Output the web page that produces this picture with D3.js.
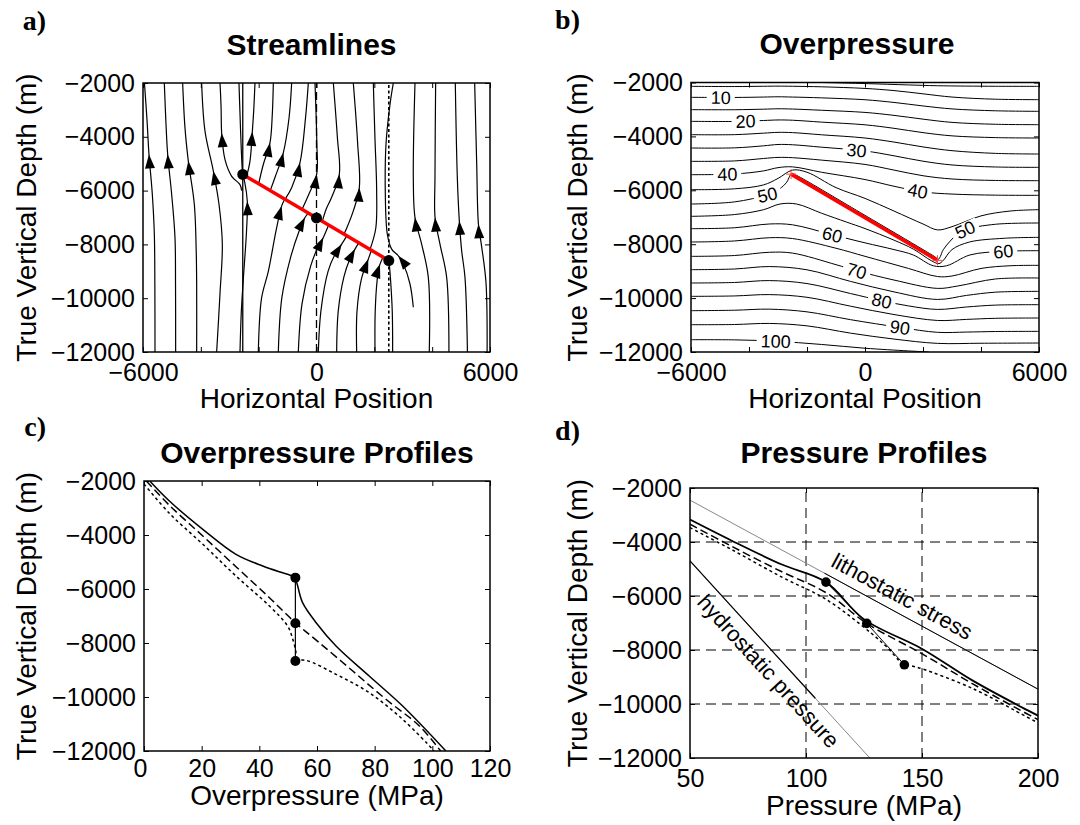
<!DOCTYPE html>
<html>
<head>
<meta charset="utf-8">
<script src="https://cdn.jsdelivr.net/npm/d3@7"></script>
<style>
  body { margin: 0; background: #fff; }
  svg { display: block; }
</style>
</head>
<body>
<svg id="fig" width="1080" height="825"></svg>
<script>
// ---------------- shared tick values ----------------
const depthTicks = [-12000, -10000, -8000, -6000, -4000, -2000];
const positionTicks = [-6000, -4000, -2000, 0, 2000, 4000, 6000];
const positionTickLabels = [-6000, 0, 6000];
const overpressureTicks = [0, 20, 40, 60, 80, 100, 120];
const pressureTicks = [50, 100, 150, 200];
const pressureGrid = [100, 150];
const depthGrid = [-10000, -8000, -6000, -4000];

// ---------------- fault and profile locations ----------------
const faultTrace = [[-2550, -5400], [2500, -8600]];
const faultDots = [[-2550, -5400], [0, -7016], [2500, -8600]];
const profileSolidX = -2550;
const profileDashedX = 0;
const profileDottedX = 2500;

// ---------------- a) streamlines, [position, depth], in flow order ----------------
const streamlines = [
  [[-5585,-12000],[-5590,-9500],[-5608,-7620],[-5678,-6137],[-5793,-4655],[-5860,-3400],[-5950,-2000]],
  [[-4871,-12000],[-4875,-9500],[-4894,-7743],[-5009,-6137],[-5147,-4655],[-5210,-3400],[-5263,-2000]],
  [[-4144,-12000],[-4144,-9500],[-4160,-8237],[-4225,-6508],[-4433,-4902],[-4548,-3667],[-4629,-2000]],
  [[-3453,-12000],[-3338,-9842],[-3257,-7990],[-3372,-6508],[-3568,-5273],[-3856,-3791],[-3972,-2000]],
  [[-2587,-6000],[-2646,-5778],[-2933,-5470],[-3164,-4852],[-3279,-3864],[-3300,-2900],[-3337,-2000]],
  [[-2560,-5400],[-2600,-4500],[-2650,-3000],[-2681,-2000]],
  [[-2646,-12000],[-2600,-10500],[-2531,-9296],[-2420,-7500],[-2393,-6396],[-2480,-5700],[-2550,-5420]],
  [[-2012,-12000],[-1900,-10000],[-1666,-9000],[-1400,-7500],[-1205,-6570],[-1100,-6320]],
  [[-1320,-12000],[-1200,-10000],[-900,-8500],[-600,-7500],[-398,-7001],[-280,-6840]],
  [[-629,-12000],[-500,-10200],[-200,-8800],[50,-8100],[236,-7743],[420,-7282]],
  [[63,-12000],[150,-10500],[400,-9000],[650,-8350],[870,-7990],[1050,-7682]],
  [[697,-12000],[750,-10500],[950,-9200],[1150,-8550],[1331,-8175],[1460,-7942]],
  [[1389,-12000],[1400,-10500],[1550,-9300],[1700,-8800],[1792,-8546],[1900,-8220]],
  [[2023,-12000],[2030,-10500],[2100,-9300],[2150,-8950],[2196,-8731],[2300,-8474]],
  [[2633,-12000],[2620,-10500],[2560,-9300],[2510,-8650]],
  [[-2420,-5482],[-2300,-4902],[-2220,-3815],[-2170,-3000],[-2127,-2000]],
  [[-2000,-5748],[-1840,-5030],[-1609,-4223],[-1530,-3200],[-1493,-2000]],
  [[-1600,-6002],[-1440,-5520],[-1148,-4594],[-950,-3300],[-859,-2000]],
  [[-1090,-6325],[-860,-5890],[-571,-4964],[-380,-3300],[-283,-2000]],
  [[-500,-6699],[-250,-6100],[5,-5396],[10,-4200],[-52,-2000]],
  [[200,-7143],[330,-6700],[520,-6260],[789,-5396],[720,-4000],[582,-2000]],
  [[950,-7618],[1043,-7400],[1273,-6755],[1481,-5890],[1420,-4200],[1273,-2000]],
  [[1850,-8190],[2050,-7400],[2080,-6000],[2020,-4000],[1965,-2000]],
  [[3348,-10336],[3233,-9472],[3002,-8731],[2829,-8422],[2599,-8175],[2449,-7619],[2380,-6137],[2403,-4285],[2541,-2803],[2657,-2000]],
  [[3900,-12000],[3867,-9225],[3636,-7990],[3406,-7002],[3348,-5520],[3406,-2000]],
  [[4580,-12000],[4501,-9225],[4270,-7990],[4100,-7002],[4097,-5520],[4120,-2000]],
  [[5220,-12000],[5135,-9225],[5020,-8237],[4939,-7126],[4870,-5520],[4800,-2000]],
  [[5900,-12000],[5860,-9400],[5700,-8000],[5600,-7250],[5540,-5000],[5470,-2000]]
];
// index of the point carrying an arrowhead on each streamline (-1: none)
const streamArrowAt = [4,4,4,4,4,-1,4,4,4,4,4,4,4,4,-1,2,2,2,2,2,3,3,-1,3,3,3,3,3];

// ---------------- b) overpressure contours (MPa), [position, depth] ----------------
const contourLevels = [0,5,10,15,20,25,30,35,40,45,50,55,60,65,70,75,80,85,90,95,100];
const contourPaths = [
  [[-1500,-2000],[0,-2040],[1500,-2090],[2500,-2120],[4500,-2140],[6000,-2142]],
  [[-6000,-2142],[-4500,-2150],[-3500,-2140],[-3000,-2135],[-2500,-2140],[-1500,-2160],[0,-2220],[1000,-2300],[2000,-2420],[3000,-2540],[4500,-2620],[6000,-2637]],
  [[-6000,-2550],[-4500,-2555],[-3500,-2540],[-3000,-2530],[-2500,-2540],[-1500,-2570],[0,-2640],[1000,-2740],[2000,-2870],[3000,-2980],[4500,-3050],[6000,-3070]],
  [[-6000,-3008],[-4500,-3010],[-3500,-2990],[-3000,-2975],[-2500,-2985],[-1500,-3030],[0,-3110],[1000,-3220],[2000,-3360],[3000,-3480],[4500,-3550],[6000,-3565]],
  [[-6000,-3441],[-4500,-3445],[-3500,-3410],[-3000,-3390],[-2500,-3400],[-1500,-3470],[0,-3570],[1000,-3700],[2000,-3860],[3000,-3980],[4500,-4045],[6000,-4060]],
  [[-6000,-3936],[-4500,-3935],[-3500,-3880],[-3000,-3850],[-2500,-3860],[-1500,-3940],[0,-4060],[1000,-4210],[2000,-4390],[3000,-4530],[4500,-4630],[6000,-4654]],
  [[-6000,-4431],[-4500,-4425],[-3500,-4350],[-3000,-4300],[-2500,-4310],[-1500,-4400],[0,-4540],[1000,-4720],[2000,-4920],[3000,-5060],[4500,-5135],[6000,-5148]],
  [[-6000,-4925],[-4500,-4910],[-3500,-4820],[-3000,-4780],[-2500,-4790],[-1500,-4880],[0,-5040],[1000,-5250],[2000,-5460],[3000,-5580],[4500,-5635],[6000,-5643]],
  [[-6000,-5420],[-4500,-5395],[-3500,-5280],[-3000,-5160],[-2500,-5130],[-1500,-5330],[0,-5600],[1000,-5850],[2000,-6060],[3000,-6140],[4500,-6180],[6000,-6187]],
  [[-6000,-5977],[-4500,-5945],[-3500,-5800],[-3000,-5560],[-2500,-5250],[-2000,-5330],[-1000,-5900],[0,-6300],[1000,-6770],[2000,-7250],[2500,-7470],[3000,-7350],[4000,-6950],[5000,-6770],[6000,-6719]],
  [[-6000,-6509],[-4500,-6430],[-3369,-6163],[-2950,-5950],[-2700,-5700],[-2600,-5480],[-2560,-5410],[-2480,-5390],[-2300,-5480],[0,-6930],[2000,-8200],[2400,-8460],[2530,-8560],[2600,-8450],[2700,-8203],[3160,-7647],[3447,-7461],[4500,-7260],[6000,-7214]],
  [[-6000,-6966],[-4500,-6900],[-3500,-6720],[-2932,-6509],[-2358,-6509],[-1500,-6850],[-634,-7180],[0,-7420],[1000,-7850],[1664,-8180],[2300,-8620],[2550,-8720],[2700,-8600],[3000,-8200],[3600,-7920],[4800,-7780],[6000,-7746]],
  [[-6000,-7424],[-4500,-7390],[-3300,-7250],[-2500,-7280],[-1128,-7648],[0,-7950],[1000,-8200],[1664,-8400],[2353,-8800],[2813,-8800],[3617,-8400],[4768,-8265],[6000,-8241]],
  [[-6000,-7919],[-4500,-7880],[-3300,-7760],[-2500,-7790],[-1000,-8150],[0,-8450],[1500,-8900],[2500,-9200],[3000,-9180],[4000,-8900],[5000,-8800],[6000,-8785]],
  [[-6000,-8451],[-4500,-8420],[-3300,-8300],[-2500,-8330],[-1000,-8760],[-289,-8985],[1000,-9330],[2500,-9640],[3200,-9550],[4500,-9290],[6000,-9255]],
  [[-6000,-8946],[-4500,-8920],[-3300,-8830],[-2000,-8950],[-500,-9380],[1000,-9770],[2500,-10050],[3500,-9900],[4500,-9780],[6000,-9750]],
  [[-6000,-9440],[-4500,-9420],[-3300,-9350],[-2000,-9460],[-500,-9830],[575,-10098],[1500,-10290],[2500,-10420],[3500,-10330],[4500,-10260],[6000,-10245]],
  [[-6000,-9935],[-4500,-9920],[-3300,-9870],[-2000,-9970],[-500,-10300],[1000,-10610],[2500,-10830],[3500,-10790],[4500,-10750],[6000,-10739]],
  [[-6000,-10467],[-4500,-10450],[-3300,-10410],[-2000,-10510],[-500,-10800],[1207,-11088],[2500,-11270],[3500,-11260],[4500,-11240],[6000,-11234]],
  [[-6000,-10987],[-4500,-10980],[-3300,-10940],[-2000,-11030],[-500,-11300],[1000,-11520],[2500,-11680],[4000,-11675],[6000,-11667]],
  [[-6000,-11544],[-4500,-11550],[-3081,-11600],[-1500,-11720],[0,-11860],[1500,-11960],[2200,-12000]]
];
// inline labels: [level, position]
const contourLabels = [[10,-4977],[20,-4115],[30,-289],[40,-4747],[40,1821],[50,-3369],[50,3447],
                       [60,-1128],[60,4768],[70,-289],[80,575],[90,1207],[100,-3081]];

// ---------------- c) overpressure profiles, [MPa, depth] ----------------
const opSolidUpper = [[2,-2000],[8.8,-2741],[20.4,-3790],[31.9,-4716],[41.2,-5148],[47.5,-5380],[50.5,-5480],[52.5,-5580]];
const opSolidLower = [[52.5,-5580],[53.3,-5889],[55,-6507],[59.7,-7248],[66.6,-8111],[78.1,-9222],[89.7,-10333],[104.7,-12000]];
const opDashed = [[0.8,-2000],[8.8,-2900],[20.4,-4037],[31.9,-5174],[43.5,-6322],[52.5,-7248],[60.8,-7989],[72.4,-9037],[83.9,-10085],[95.5,-11074],[102.9,-12000]];
const opDottedUpper = [[0,-2110],[8.8,-3197],[20.4,-4344],[31.9,-5519],[43.5,-6630],[49.8,-7370],[51.6,-7863],[52.7,-8359],[52.5,-8667]];
const opDottedLower = [[52.5,-8667],[56,-8640],[66.6,-9160],[78.1,-9840],[89.7,-10826],[100.1,-11937],[100.6,-12000]];
const opDots   = [[52.5,-5580],[52.5,-7270],[52.5,-8667]];

// ---------------- d) pressure profiles, [MPa, depth] ----------------
const pSolid  = [[50,-3170],[68,-3952],[89.6,-4835],[108.6,-5485],[124.9,-6857],[150.1,-7960],[171.7,-9125],[195.4,-10228],[200,-10430]];
const pDashed = [[50,-3340],[68,-4162],[89.6,-5103],[108.6,-5875],[126.2,-7015],[150.1,-8143],[171.7,-9246],[195.4,-10370],[200,-10575]];
const pDotted = [[50,-3470],[68,-4283],[89.6,-5301],[108.6,-6121],[128,-7370],[134.5,-7863],[142.4,-8548],[146,-8600],[150.1,-8700],[171.7,-9420],[195.4,-10490],[200,-10700]];
const pDots   = [[108.6,-5485],[126.2,-7015],[142.4,-8548]];
const lithostatic = [[50,-2450],[200,-9450]];
const hydrostatic = [[50,-4700],[127.5,-12000]];
const lithostaticDarkFrom = 108;   // MPa where the dark part of the line begins
const hydrostaticDarkTo = 104;     // MPa where the dark part of the line ends

// ---------------- drawing ----------------
const FONT = "'Liberation Sans', Arial, Helvetica, sans-serif";
const SERIF = "'Liberation Serif', 'Times New Roman', serif";
const svg = d3.select("#fig");
const fmt = d3.format("d");

function makePanel(id, box, xDomain, yDomain) {
  const x = d3.scaleLinear().domain(xDomain).range([box.left, box.right]);
  const y = d3.scaleLinear().domain(yDomain).range([box.bottom, box.top]);
  svg.append("clipPath").attr("id", id)
    .append("rect").attr("x", box.left).attr("y", box.top)
    .attr("width", box.right - box.left).attr("height", box.bottom - box.top);
  const plot = svg.append("g").attr("clip-path", `url(#${id})`);
  return {x, y, box, plot};
}

function drawFrame(p, o) {
  const {x, y, box} = p;
  const g = svg.append("g");
  g.append("g").attr("transform", `translate(${box.left},0)`)
    .call(d3.axisLeft(y).tickValues(o.yTicks).tickSize(-5).tickPadding(8)
      .tickFormat(d => fmt(d)));
  g.append("g").attr("transform", `translate(${box.right},0)`)
    .call(d3.axisRight(y).tickValues(o.yTicks).tickSize(-5).tickFormat(""));
  const bottom = g.append("g").attr("transform", `translate(0,${box.bottom})`)
    .call(d3.axisBottom(x).tickValues(o.xTicks).tickSize(-5).tickPadding(o.xPad)
      .tickFormat(d => o.xLabels.includes(d) ? fmt(d) : ""));
  if (o.firstLabelShift) {
    bottom.selectAll(".tick text").filter(d => d === o.xTicks[0]).attr("x", o.firstLabelShift);
  }
  g.append("g").attr("transform", `translate(0,${box.top})`)
    .call(d3.axisTop(x).tickValues(o.xTicks).tickSize(-5).tickFormat(""));
  g.selectAll(".domain").remove();
  g.selectAll(".tick line").attr("stroke", "#000").attr("stroke-width", 1);
  g.selectAll(".tick text").attr("font-size", 25).attr("font-family", FONT).attr("fill", "#000");
  g.append("rect").attr("x", box.left).attr("y", box.top)
    .attr("width", box.right - box.left).attr("height", box.bottom - box.top)
    .attr("fill", "none").attr("stroke", "#000").attr("stroke-width", 1.5);

  const cx = (box.left + box.right) / 2, cy = (box.top + box.bottom) / 2;
  svg.append("text").attr("x", cx + (o.titleShift || 0)).attr("y", o.titleY).attr("text-anchor", "middle")
    .attr("font-family", FONT).attr("font-weight", "bold").attr("font-size", 30).text(o.title);
  svg.append("text").attr("x", cx).attr("y", o.xLabelY).attr("text-anchor", "middle")
    .attr("font-family", FONT).attr("font-size", 28).text(o.xLabel);
  svg.append("text").attr("transform", `translate(${o.yLabelX},${cy}) rotate(-90)`)
    .attr("text-anchor", "middle").attr("font-family", FONT).attr("font-size", 28)
    .text("True Vertical Depth (m)");
  svg.append("text").attr("x", o.tagX).attr("y", o.tagY).attr("text-anchor", "end")
    .attr("font-family", SERIF).attr("font-weight", "bold").attr("font-size", 28).text(o.tag);
}

const lineOf = (p, curve) => d3.line().x(d => p.x(d[0])).y(d => p.y(d[1])).curve(curve || d3.curveLinear);
const smooth = d3.curveCatmullRom.alpha(0.5);

// ===== a) Streamlines =====
const pa = makePanel("clipA", {left: 143, right: 490, top: 83, bottom: 352}, [-6000, 6000], [-12000, -2000]);
pa.plot.selectAll("path.stream").data(streamlines).join("path")
  .attr("d", d => lineOf(pa, smooth)(d))
  .attr("fill", "none").attr("stroke", "#000").attr("stroke-width", 1.2);

// arrowheads
streamlines.forEach((s, i) => {
  const k = streamArrowAt[i];
  if (k < 0) return;
  const a = s[Math.max(k - 1, 0)], b = s[Math.min(k + 1, s.length - 1)];
  let ux = pa.x(b[0]) - pa.x(a[0]), uy = pa.y(b[1]) - pa.y(a[1]);
  const n = Math.hypot(ux, uy); ux /= n; uy /= n;
  const tx = pa.x(s[k][0]), ty = pa.y(s[k][1]);
  const L = 14, w = 5;
  const bx = tx - L * ux, by = ty - L * uy;
  pa.plot.append("path")
    .attr("d", `M${tx},${ty}L${bx - w * uy},${by + w * ux}L${bx + w * uy},${by - w * ux}Z`)
    .attr("fill", "#000");
});

// profile locations
[[profileSolidX, null, 1.3], [profileDashedX, "8,4", 1.3], [profileDottedX, "3,2.5", 1.6]].forEach(([xv, dash, sw]) => {
  pa.plot.append("line").attr("x1", pa.x(xv)).attr("x2", pa.x(xv))
    .attr("y1", pa.y(-12000)).attr("y2", pa.y(-2000))
    .attr("stroke", "#000").attr("stroke-width", sw).attr("stroke-dasharray", dash);
});
pa.plot.append("path").attr("d", lineOf(pa)(faultTrace))
  .attr("stroke", "#f00").attr("stroke-width", 3.5).attr("fill", "none");
pa.plot.selectAll("circle").data(faultDots).join("circle")
  .attr("cx", d => pa.x(d[0])).attr("cy", d => pa.y(d[1])).attr("r", 5.5).attr("fill", "#000");

drawFrame(pa, {yTicks: depthTicks, xTicks: positionTicks, xLabels: positionTickLabels, xPad: 11,
  title: "Streamlines", titleShift: -5, titleY: 55, xLabel: "Horizontal Position", xLabelY: 408,
  yLabelX: 36, tag: "a)", tagX: 46, tagY: 30});

// ===== b) Overpressure =====
const pb = makePanel("clipB", {left: 691, right: 1039, top: 82.5, bottom: 352}, [-6000, 6000], [-12000, -2000]);
pb.plot.selectAll("path.contour").data(contourPaths).join("path")
  .attr("d", d => lineOf(pb, smooth)(d))
  .attr("fill", "none").attr("stroke", "#000").attr("stroke-width", 1);

function depthOnContour(path, xv) {
  for (let i = 0; i < path.length - 1; i++) {
    const [x0, y0] = path[i], [x1, y1] = path[i + 1];
    if ((xv - x0) * (xv - x1) <= 0) {
      const t = (xv - x0) / (x1 - x0);
      return {d: y0 + t * (y1 - y0), a: path[i], b: path[i + 1]};
    }
  }
  return null;
}
contourLabels.forEach(([lev, xv]) => {
  const path = contourPaths[contourLevels.indexOf(lev)];
  const hit = depthOnContour(path, xv);
  if (!hit) return;
  const px = pb.x(xv), py = pb.y(hit.d);
  let ang = Math.atan2(pb.y(hit.b[1]) - pb.y(hit.a[1]), pb.x(hit.b[0]) - pb.x(hit.a[0])) * 180 / Math.PI;
  ang = Math.max(-25, Math.min(25, ang));
  const g = pb.plot.append("g").attr("transform", `translate(${px},${py}) rotate(${ang})`);
  const t = g.append("text").attr("text-anchor", "middle").attr("dy", "0.36em")
    .attr("font-family", FONT).attr("font-size", 18).text(lev);
  const wdt = t.node().getComputedTextLength();
  g.insert("rect", "text").attr("x", -wdt / 2 - 4).attr("y", -7).attr("width", wdt + 8).attr("height", 14)
    .attr("fill", "#fff");
});
pb.plot.append("path").attr("d", lineOf(pb)(faultTrace))
  .attr("stroke", "#f00").attr("stroke-width", 3.5).attr("fill", "none");
faultTrace.forEach(([xv, dv]) => {
  const px = pb.x(xv), py = pb.y(dv);
  pb.plot.append("path").attr("d", `M${px - 5},${py}H${px + 5}M${px},${py - 5}V${py + 5}`)
    .attr("stroke", "#f44").attr("stroke-width", 1);
});
drawFrame(pb, {yTicks: depthTicks, xTicks: positionTicks, xLabels: positionTickLabels, xPad: 11,
  title: "Overpressure", titleShift: -8, titleY: 54, xLabel: "Horizontal Position", xLabelY: 408,
  yLabelX: 587, tag: "b)", tagX: 580, tagY: 29});

// ===== c) Overpressure Profiles =====
const pc = makePanel("clipC", {left: 144, right: 490, top: 481, bottom: 751}, [0, 120], [-12000, -2000]);
[[opSolidUpper, null], [opSolidLower, null], [opDashed, "8,4"], [opDottedUpper, "3,3"], [opDottedLower, "3,3"]].forEach(([data, dash]) => {
  pc.plot.append("path").attr("d", lineOf(pc, smooth)(data))
    .attr("fill", "none").attr("stroke", "#000").attr("stroke-width", 1.5).attr("stroke-dasharray", dash);
});
pc.plot.append("path").attr("d", lineOf(pc)(opDots))
  .attr("fill", "none").attr("stroke", "#000").attr("stroke-width", 1.2);
pc.plot.selectAll("circle").data(opDots).join("circle")
  .attr("cx", d => pc.x(d[0])).attr("cy", d => pc.y(d[1])).attr("r", 5).attr("fill", "#000");
drawFrame(pc, {yTicks: depthTicks, xTicks: overpressureTicks, xLabels: overpressureTicks, xPad: 8,
  firstLabelShift: -4,
  title: "Overpressure Profiles", titleY: 463, xLabel: "Overpressure (MPa)", xLabelY: 805,
  yLabelX: 36, tag: "c)", tagX: 46, tagY: 436});

// ===== d) Pressure Profiles =====
const pd = makePanel("clipD", {left: 690, right: 1038, top: 488, bottom: 758}, [50, 200], [-12000, -2000]);
pressureGrid.forEach(v => pd.plot.append("line")
  .attr("x1", pd.x(v)).attr("x2", pd.x(v)).attr("y1", pd.y(-12000)).attr("y2", pd.y(-2000))
  .attr("stroke", "#000").attr("stroke-width", 1).attr("stroke-dasharray", "10,6"));
depthGrid.forEach(v => pd.plot.append("line")
  .attr("x1", pd.x(50)).attr("x2", pd.x(200)).attr("y1", pd.y(v)).attr("y2", pd.y(v))
  .attr("stroke", "#000").attr("stroke-width", 1).attr("stroke-dasharray", "10,6"));

function along(line, xv) {
  const [[x0, y0], [x1, y1]] = line;
  return [xv, y0 + (xv - x0) / (x1 - x0) * (y1 - y0)];
}
pd.plot.append("path").attr("d", lineOf(pd)(lithostatic)).attr("stroke", "#888").attr("stroke-width", 1).attr("fill", "none");
pd.plot.append("path").attr("d", lineOf(pd)([along(lithostatic, lithostaticDarkFrom), lithostatic[1]]))
  .attr("stroke", "#000").attr("stroke-width", 1).attr("fill", "none");
pd.plot.append("path").attr("d", lineOf(pd)(hydrostatic)).attr("stroke", "#888").attr("stroke-width", 1).attr("fill", "none");
pd.plot.append("path").attr("d", lineOf(pd)([hydrostatic[0], along(hydrostatic, hydrostaticDarkTo)]))
  .attr("stroke", "#000").attr("stroke-width", 1.2).attr("fill", "none");

[[pSolid, null, 1.8], [pDashed, "8,4", 1.5], [pDotted, "3,3", 1.5]].forEach(([data, dash, sw]) => {
  pd.plot.append("path").attr("d", lineOf(pd, smooth)(data))
    .attr("fill", "none").attr("stroke", "#000").attr("stroke-width", sw).attr("stroke-dasharray", dash);
});
pd.plot.append("path").attr("d", lineOf(pd)(pDots)).attr("fill", "none").attr("stroke", "#000").attr("stroke-width", 1);
pd.plot.selectAll("circle").data(pDots).join("circle")
  .attr("cx", d => pd.x(d[0])).attr("cy", d => pd.y(d[1])).attr("r", 4.8).attr("fill", "#000");

function lineLabel(line, xv, offset, text) {
  const [a, b] = line;
  const ang = Math.atan2(pd.y(b[1]) - pd.y(a[1]), pd.x(b[0]) - pd.x(a[0]));
  const p = along(line, xv);
  const px = pd.x(p[0]) + offset * Math.sin(ang), py = pd.y(p[1]) - offset * Math.cos(ang);
  svg.append("text").attr("transform", `translate(${px},${py}) rotate(${ang * 180 / Math.PI})`)
    .attr("text-anchor", "middle").attr("font-family", FONT).attr("font-size", 22).text(text);
}
lineLabel(lithostatic, 138, 9, "lithostatic stress");
lineLabel(hydrostatic, 89, -24, "hydrostatic pressure");

drawFrame(pd, {yTicks: depthTicks, xTicks: pressureTicks, xLabels: pressureTicks, xPad: 11,
  title: "Pressure Profiles", titleY: 463, xLabel: "Pressure (MPa)", xLabelY: 815,
  yLabelX: 587, tag: "d)", tagX: 580, tagY: 440});
</script>
</body>
</html>
